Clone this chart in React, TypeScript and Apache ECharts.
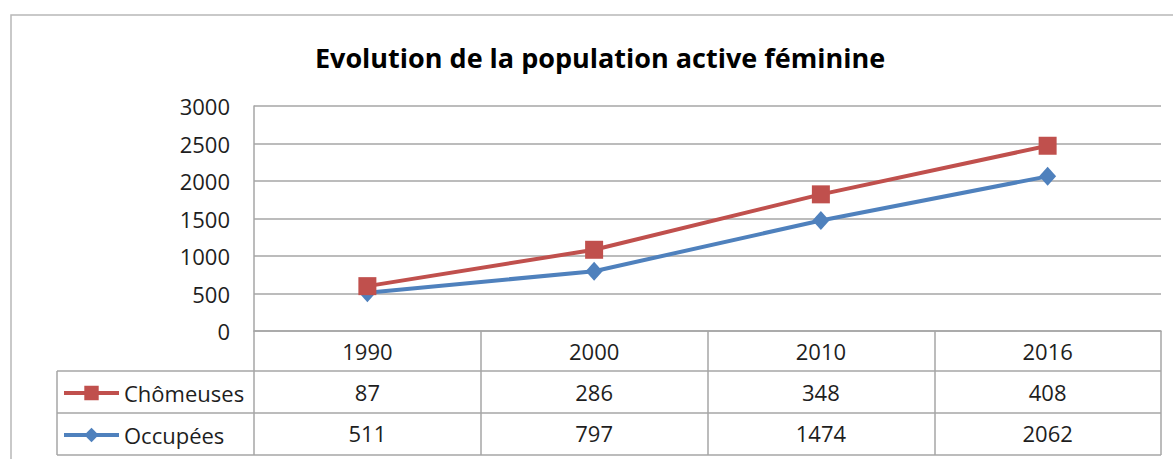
import React, { useEffect, useRef } from "react";
import * as echarts from "echarts";

const years = ["1990", "2000", "2010", "2016"];
const chomeuses = [87, 286, 348, 408];
const occupees = [511, 797, 1474, 2062];
const yTicks = { min: 0, max: 3000, interval: 500 };
const titleText = "Evolution de la population active féminine";

const FONT = "'Open Sans', sans-serif";
const GRID_COLOR = "#a6a6a6";
const TEXT_COLOR = "#1e1e1e";
const RED = "#c0504d";
const BLUE = "#4f81bd";
const FS = 22;

export default function App() {
  const ref = useRef<HTMLDivElement>(null);
  useEffect(() => {
    if (!ref.current) return;
    const chart = echarts.init(ref.current, null, { renderer: "svg" });
    const lineSt = { stroke: GRID_COLOR, lineWidth: 1.5 };
    const labelSt = { interval: 0, margin: 9, fontSize: FS, color: TEXT_COLOR, fontFamily: FONT };
    chart.setOption({
      animation: false,
      textStyle: { fontFamily: FONT },
      grid: { left: 254, right: 12, top: 106, bottom: 128 },
      legend: {
        data: ["Chômeuses", "Occupées"],
        orient: "vertical",
        left: 57,
        top: 377,
        itemWidth: 55,
        itemHeight: 18,
        itemGap: 20,
        lineStyle: { width: 4 },
        textStyle: { fontSize: FS, color: TEXT_COLOR, fontFamily: FONT },
        selectedMode: false,
      },
      xAxis: [
        {
          type: "category",
          data: years,
          boundaryGap: true,
          axisLine: { lineStyle: { color: GRID_COLOR, width: 1.5 } },
          axisTick: { show: true, length: 124, interval: 0, lineStyle: { color: GRID_COLOR, width: 1.5 } },
          axisLabel: labelSt,
        },
        {
          type: "category",
          data: chomeuses.map(String),
          position: "bottom",
          offset: 41,
          axisLine: { show: false },
          axisTick: { show: false },
          axisLabel: labelSt,
        },
        {
          type: "category",
          data: occupees.map(String),
          position: "bottom",
          offset: 82,
          axisLine: { show: false },
          axisTick: { show: false },
          axisLabel: labelSt,
        },
      ],
      yAxis: {
        type: "value",
        min: yTicks.min,
        max: yTicks.max,
        interval: yTicks.interval,
        axisLine: { show: true, lineStyle: { color: GRID_COLOR, width: 1.5 } },
        axisTick: { show: false },
        splitLine: { lineStyle: { color: GRID_COLOR, width: 1.5 } },
        axisLabel: { margin: 24, fontSize: FS, color: TEXT_COLOR, fontFamily: FONT, formatter: (v: number) => String(v) },
      },
      series: [
        {
          name: "Occupées",
          type: "line",
          stack: "total",
          data: occupees,
          symbol: "diamond",
          symbolSize: [17, 19],
          itemStyle: { color: BLUE },
          lineStyle: { color: BLUE, width: 4 },
        },
        {
          name: "Chômeuses",
          type: "line",
          stack: "total",
          data: chomeuses,
          symbol: "rect",
          symbolSize: 18,
          itemStyle: { color: RED },
          lineStyle: { color: RED, width: 4 },
        },
      ],
      graphic: [
        { type: "rect", shape: { x: 11, y: 15, width: 1300, height: 600 }, style: { fill: "none", stroke: "#b8b8b8", lineWidth: 1.5 }, silent: true },
        {
          type: "text",
          x: 600,
          y: 57,
          style: { text: titleText, font: `bold 27px ${FONT}`, fill: "#000", textAlign: "center", textVerticalAlign: "middle" },
        },
        { type: "line", shape: { x1: 57, y1: 371, x2: 1161, y2: 371 }, style: lineSt },
        { type: "line", shape: { x1: 57, y1: 413, x2: 1161, y2: 413 }, style: lineSt },
        { type: "line", shape: { x1: 57, y1: 455, x2: 1161, y2: 455 }, style: lineSt },
        { type: "line", shape: { x1: 57, y1: 371, x2: 57, y2: 455 }, style: lineSt },
      ],
    });
    return () => chart.dispose();
  }, []);
  return (
    <div
      ref={ref}
      style={{ position: "fixed", left: 0, top: 0, width: 1173, height: 459, background: "#fff" }}
    />
  );
}
